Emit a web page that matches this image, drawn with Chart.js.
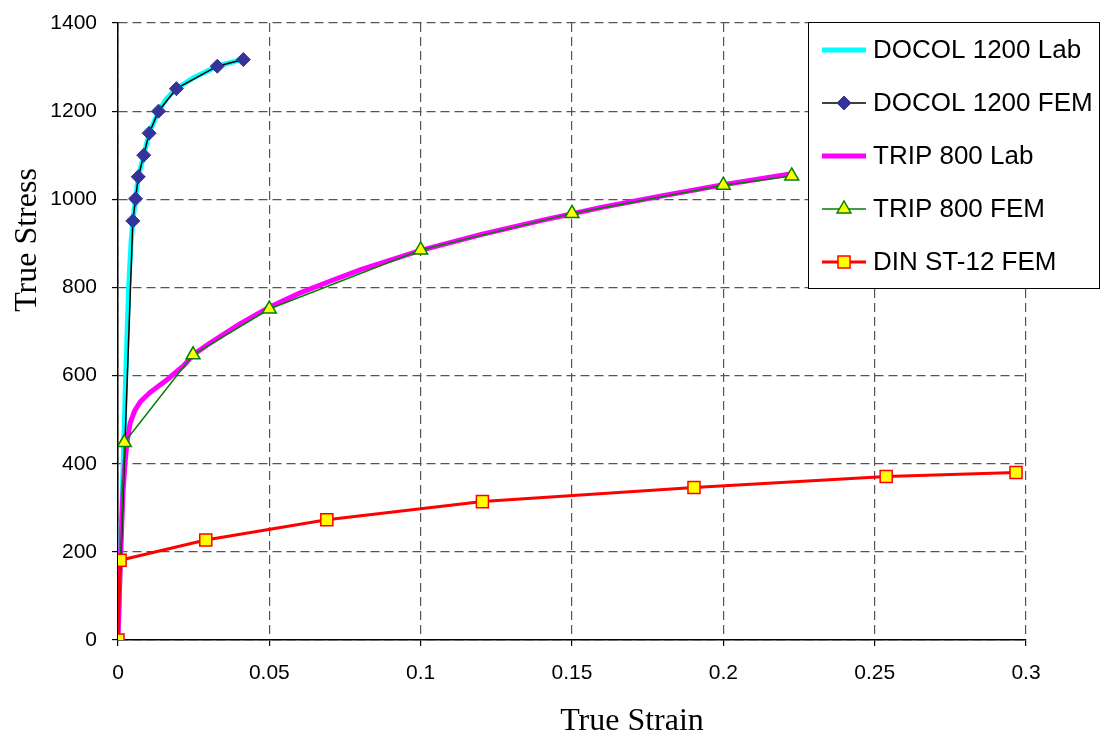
<!DOCTYPE html>
<html>
<head>
<meta charset="utf-8">
<script src="https://cdn.jsdelivr.net/npm/chart.js@4/dist/chart.umd.min.js"></script>
<style>
  html, body { margin: 0; padding: 0; background: #fff; }
  canvas { display: block; }
</style>
</head>
<body>
<canvas id="c" width="1104" height="740"></canvas>
<script>
// ---- data ----
const seriesNames = ["DOCOL 1200 Lab", "DOCOL 1200 FEM", "TRIP 800 Lab", "TRIP 800 FEM", "DIN ST-12 FEM"];

const docolLabStrain = [0, 0.0012, 0.0025, 0.0035, 0.0043, 0.0049, 0.0058, 0.0067, 0.0085, 0.0103, 0.0134, 0.016, 0.0193, 0.025, 0.0328, 0.0414];
const docolLabStress = [0, 280, 590, 800, 900, 951, 1001, 1051, 1100, 1150, 1200, 1228, 1251, 1276, 1302, 1318];

const docolFemStrain = [0, 0.0049, 0.0058, 0.0067, 0.0085, 0.0103, 0.0134, 0.0193, 0.0328, 0.0414];
const docolFemStress = [0, 951, 1001, 1051, 1100, 1150, 1200, 1251, 1302, 1317];

const tripLabStrain = [0, 0.0008, 0.0016, 0.0023, 0.003, 0.004, 0.0055, 0.0073, 0.0106, 0.0161, 0.0216, 0.025, 0.03, 0.04, 0.05, 0.06, 0.07, 0.08, 0.09, 0.1, 0.12, 0.14, 0.16, 0.18, 0.2, 0.2226];
const tripLabStress = [0, 180, 330, 400, 450, 492, 520, 540, 562, 590, 622, 648, 672, 716, 755, 787, 814, 840, 862, 884, 920, 952, 982, 1008, 1033, 1058];

const tripFemStrain = [0, 0.0021, 0.0248, 0.05, 0.1, 0.15, 0.2, 0.2226];
const tripFemStress = [0, 448, 647, 751, 885, 968, 1032, 1053];

const dinFemStrain = [0, 0.0007, 0.029, 0.069, 0.1204, 0.1903, 0.2538, 0.2967];
const dinFemStress = [0, 181, 227, 273, 314, 346, 371, 380];

const xTicks = [0, 0.05, 0.1, 0.15, 0.2, 0.25, 0.3];
const yTicks = [0, 200, 400, 600, 800, 1000, 1200, 1400];
const xTitle = "True Strain";
const yTitle = "True Stress";

// ---- build ----
function pts(xs, ys) { return xs.map((x, i) => ({ x: x, y: ys[i] })); }

const datasets = [
  { label: seriesNames[0], data: pts(docolLabStrain, docolLabStress), borderColor: '#00FFFF', borderWidth: 5, pointRadius: 0, order: 5 },
  { label: seriesNames[1], data: pts(docolFemStrain, docolFemStress), borderColor: '#000000', borderWidth: 1.5,
    pointStyle: 'rectRot', pointRadius: 7, pointBackgroundColor: '#333399', pointBorderColor: '#333399', pointBorderWidth: 1, order: 3 },
  { label: seriesNames[2], data: pts(tripLabStrain, tripLabStress), borderColor: '#FF00FF', borderWidth: 5, pointRadius: 0, order: 4 },
  { label: seriesNames[3], data: pts(tripFemStrain, tripFemStress), borderColor: '#008000', borderWidth: 1.5,
    pointStyle: 'triangle', pointRadius: 8, pointBackgroundColor: '#FFFF00', pointBorderColor: '#008000', pointBorderWidth: 1.5, order: 2 },
  { label: seriesNames[4], data: pts(dinFemStrain, dinFemStress), borderColor: '#FF0000', borderWidth: 3,
    pointStyle: 'rect', pointRadius: 8.5, pointBackgroundColor: '#FFFF00', pointBorderColor: '#FF0000', pointBorderWidth: 1.5, order: 1 }
];
datasets.forEach(d => { d.tension = 0; d.fill = false; d.pointHoverRadius = d.pointRadius; });

function drawMarker(ctx, ds, x, y) {
  if (!ds.pointRadius) return;
  ctx.save();
  ctx.fillStyle = ds.pointBackgroundColor;
  ctx.strokeStyle = ds.pointBorderColor;
  ctx.lineWidth = ds.pointBorderWidth;
  const r = ds.pointRadius;
  ctx.beginPath();
  if (ds.pointStyle === 'rectRot') {
    ctx.moveTo(x, y - r); ctx.lineTo(x + r, y); ctx.lineTo(x, y + r); ctx.lineTo(x - r, y); ctx.closePath();
  } else if (ds.pointStyle === 'triangle') {
    ctx.moveTo(x, y - r); ctx.lineTo(x + r * 0.866, y + r * 0.5); ctx.lineTo(x - r * 0.866, y + r * 0.5); ctx.closePath();
  } else if (ds.pointStyle === 'rect') {
    const s = Math.SQRT1_2 * r;
    ctx.rect(x - s, y - s, 2 * s, 2 * s);
  }
  ctx.fill(); ctx.stroke();
  ctx.restore();
}

const decorPlugin = {
  id: 'decor',
  beforeDraw(chart) {
    const ctx = chart.ctx;
    ctx.save(); ctx.fillStyle = '#fff'; ctx.fillRect(0, 0, chart.width, chart.height); ctx.restore();
  },
  afterDraw(chart) {
    const ctx = chart.ctx;
    ctx.save();
    // axis titles
    ctx.fillStyle = '#000';
    ctx.font = '32px "Liberation Serif", "Times New Roman", serif';
    ctx.textAlign = 'center'; ctx.textBaseline = 'middle';
    ctx.fillText(xTitle, 632, 722);
    ctx.translate(28, 240); ctx.rotate(-Math.PI / 2);
    ctx.fillText(yTitle, 0, 0);
    ctx.restore();

    // legend
    ctx.save();
    const lx = 808, ly = 22, lw = 292, lh = 267;
    ctx.fillStyle = '#fff'; ctx.fillRect(lx, ly, lw, lh);
    ctx.strokeStyle = '#000'; ctx.lineWidth = 1; ctx.strokeRect(lx + 0.5, ly + 0.5, lw - 1, lh - 1);
    ctx.font = '26px "Liberation Sans", Arial, sans-serif';
    ctx.textAlign = 'left'; ctx.textBaseline = 'middle';
    const ds = chart.data.datasets;
    for (let i = 0; i < ds.length; i++) {
      const y = 50 + i * 53;
      ctx.strokeStyle = ds[i].borderColor;
      ctx.lineWidth = ds[i].borderWidth;
      ctx.beginPath(); ctx.moveTo(822, y); ctx.lineTo(866, y); ctx.stroke();
      drawMarker(ctx, ds[i], 844, y);
      ctx.fillStyle = '#000';
      ctx.fillText(ds[i].label, 873, y + 1);
    }
    ctx.restore();
  }
};

const gridCommon = {
  color: '#555555', lineWidth: 1.2,
  tickColor: '#000000', tickWidth: 1.2, tickLength: 6, tickBorderDash: [], drawOnChartArea: true
};
const borderCommon = { display: true, color: '#000', width: 1.5, dash: [9, 5] };

new Chart(document.getElementById('c'), {
  type: 'line',
  data: { datasets: datasets },
  plugins: [decorPlugin],
  options: {
    responsive: false,
    animation: false,
    devicePixelRatio: 1,
    layout: { padding: { top: 23, right: 78, left: 0, bottom: 0 } },
    plugins: { legend: { display: false }, tooltip: { enabled: false }, title: { display: false } },
    scales: {
      x: {
        type: 'linear', min: xTicks[0], max: xTicks[xTicks.length - 1],
        afterBuildTicks(scale) { scale.ticks = xTicks.map(v => ({ value: v })); },
        afterFit(scale) { scale.height = 100; scale.paddingLeft = 0; scale.paddingRight = 0; },
        grid: gridCommon,
        border: borderCommon,
        ticks: {
          color: '#000', padding: 15, maxRotation: 0, autoSkip: false,
          font: { family: '"Liberation Sans", Arial, sans-serif', size: 21 },
          callback: v => String(parseFloat(Number(v).toFixed(3)))
        }
      },
      y: {
        type: 'linear', min: yTicks[0], max: yTicks[yTicks.length - 1],
        afterBuildTicks(scale) { scale.ticks = yTicks.map(v => ({ value: v })); },
        afterFit(scale) { scale.width = 118; scale.paddingTop = 0; scale.paddingBottom = 0; },
        grid: gridCommon,
        border: borderCommon,
        ticks: {
          color: '#000', padding: 15, autoSkip: false,
          font: { family: '"Liberation Sans", Arial, sans-serif', size: 21 },
          callback: v => String(v)
        }
      }
    }
  }
});
</script>
</body>
</html>
